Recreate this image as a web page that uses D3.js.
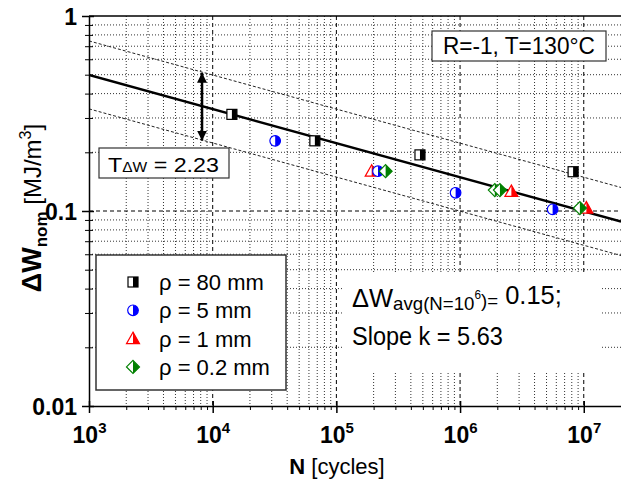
<!DOCTYPE html>
<html><head><meta charset="utf-8">
<script src="https://cdn.jsdelivr.net/npm/d3@7"></script>
<style>body{margin:0;background:#fff;} svg{display:block;font-family:"Liberation Sans",Arial,sans-serif;}</style>
</head><body><svg id="c" width="621" height="482"></svg>
<script>
// ---- data ----
const rho80N = [1.43e4, 6.7e4, 4.74e5, 8.2e6];
const rho80W = [0.313, 0.229, 0.194, 0.159];
const rho5N  = [3.2e4, 2.17e5, 9.2e5, 5.6e6];
const rho5W  = [0.229, 0.160, 0.124, 0.102];
const rho1N  = [1.93e5, 2.6e6, 1.05e7];
const rho1W  = [0.160, 0.126, 0.1035];
const rho02N = [2.5e5, 1.91e6, 2.1e6, 9.3e6];
const rho02W = [0.160, 0.128, 0.128, 0.1035];
const fitN   = [1e3, 2e7];
const fitW   = [0.498, 0.0882];
const upperW = [0.745, 0.132];
const lowerW = [0.334, 0.0591];
const arrowN = 8.2e3;
const arrowW = [0.5117, 0.2295];
const xMajor = [1e3, 1e4, 1e5, 1e6, 1e7];
const xExp   = ["3", "4", "5", "6", "7"];
const yMajor = [1, 0.1, 0.01];
const yLabels= ["1", "0.1", "0.01"];
const legendLabels = ["\u03C1 = 80 mm", "\u03C1 = 5 mm", "\u03C1 = 1 mm", "\u03C1 = 0.2 mm"];

// ---- layout ----
const L = 89, R = 621, T = 16, B = 406;
const svg = d3.select("#c");
const x = d3.scaleLog().domain([1e3, 2e7]).range([L, R]);
const y = d3.scaleLog().domain([0.01, 1]).range([B, T]);
const isMajor = v => Math.abs(Math.log10(v) - Math.round(Math.log10(v))) < 1e-9;

// grid
const gGrid = svg.append("g");
x.ticks().filter(v => v > 1e3 && v < 2e7).forEach(v => {
  gGrid.append("line").attr("x1", x(v)).attr("x2", x(v)).attr("y1", T).attr("y2", B)
    .attr("stroke", isMajor(v) ? "#000" : "#333").attr("stroke-width", 1)
    .attr("stroke-dasharray", isMajor(v) ? "4,3" : "1,2");
});
y.ticks().filter(v => v > 0.01 && v < 1).forEach(v => {
  gGrid.append("line").attr("y1", y(v)).attr("y2", y(v)).attr("x1", L).attr("x2", R)
    .attr("stroke", isMajor(v) ? "#000" : "#333").attr("stroke-width", 1)
    .attr("stroke-dasharray", isMajor(v) ? "4,3" : "1,2");
});

// white area behind text
svg.append("rect").attr("x", 343).attr("y", 273).attr("width", 257).attr("height", 99).attr("fill", "#fff");

// clip
svg.append("clipPath").attr("id", "pc").append("rect").attr("x", L).attr("y", T).attr("width", R - L).attr("height", B - T);
const gPlot = svg.append("g").attr("clip-path", "url(#pc)");

const line = d3.line().x(d => x(d[0])).y(d => y(d[1]));
gPlot.append("path").datum(d3.zip(fitN, upperW)).attr("d", line).attr("fill", "none")
  .attr("stroke", "#222").attr("stroke-width", 1).attr("stroke-dasharray", "3,2");
gPlot.append("path").datum(d3.zip(fitN, lowerW)).attr("d", line).attr("fill", "none")
  .attr("stroke", "#222").attr("stroke-width", 1).attr("stroke-dasharray", "3,2");
gPlot.append("path").datum(d3.zip(fitN, fitW)).attr("d", line).attr("fill", "none")
  .attr("stroke", "#000").attr("stroke-width", 2.5);

// arrow
const defs = svg.append("defs");
defs.append("marker").attr("id", "ah").attr("viewBox", "0 0 10 10").attr("refX", 10).attr("refY", 5)
  .attr("markerWidth", 4).attr("markerHeight", 5).attr("markerUnits", "strokeWidth").attr("orient", "auto-start-reverse")
  .append("path").attr("d", "M0,0 L10,5 L0,10 Z").attr("fill", "#000");
svg.append("line").attr("x1", x(arrowN)).attr("x2", x(arrowN)).attr("y1", y(arrowW[0])).attr("y2", y(arrowW[1]))
  .attr("stroke", "#000").attr("stroke-width", 2.5)
  .attr("marker-start", "url(#ah)").attr("marker-end", "url(#ah)");

// markers
function marker(g, shape, color) {
  if (shape === "square") {
    g.append("rect").attr("x", -5).attr("y", -5).attr("width", 10).attr("height", 10).attr("fill", "#fff").attr("stroke", color).attr("stroke-width", 1.2);
    g.append("rect").attr("x", 0).attr("y", -5).attr("width", 5).attr("height", 10).attr("fill", color);
  } else if (shape === "circle") {
    const r = 5.3;
    g.append("circle").attr("r", r).attr("fill", "#fff").attr("stroke", color).attr("stroke-width", 1.2);
    g.append("path").attr("d", `M0,${-r} A${r},${r} 0 0 1 0,${r} Z`).attr("fill", color);
  } else if (shape === "triangle") {
    g.append("path").attr("d", "M0,-6.5 L6.5,5 L-6.5,5 Z").attr("fill", "#fff").attr("stroke", color).attr("stroke-width", 1.2);
    g.append("path").attr("d", "M0,-6.5 L6.5,5 L0,5 Z").attr("fill", color);
  } else {
    g.append("path").attr("d", "M0,-6.5 L6.5,0 L0,6.5 L-6.5,0 Z").attr("fill", "#fff").attr("stroke", color).attr("stroke-width", 1.2);
    g.append("path").attr("d", "M0,-6.5 L6.5,0 L0,6.5 Z").attr("fill", color);
  }
}
const series = [
  {N: rho80N, W: rho80W, shape: "square", color: "#000"},
  {N: rho1N, W: rho1W, shape: "triangle", color: "#ff0000"},
  {N: rho5N, W: rho5W, shape: "circle", color: "#0000ff"},
  {N: rho02N, W: rho02W, shape: "diamond", color: "#008000"}
];
series.forEach(s => {
  s.N.forEach((n, i) => {
    marker(svg.append("g").attr("transform", `translate(${x(n)},${y(s.W[i])})`), s.shape, s.color);
  });
});

// axes
svg.append("line").attr("x1", L).attr("x2", R).attr("y1", T).attr("y2", T).attr("stroke", "#000").attr("stroke-width", 1.5);
const gx = svg.append("g").attr("transform", `translate(0,${B})`);
gx.call(d3.axisBottom(x).tickValues(x.ticks().filter(v => !isMajor(v))).tickSize(4).tickFormat(""));
gx.call(g => g.select(".domain").remove());
const gx2 = svg.append("g").attr("transform", `translate(0,${B})`);
gx2.call(d3.axisBottom(x).tickValues(xMajor).tickSize(7).tickSizeOuter(0).tickFormat(""));
gx2.select(".domain").attr("stroke-width", 1.5);
gx2.selectAll(".tick line").attr("y1", -5).attr("stroke-width", 1.5);
gx2.selectAll(".tick").append("text").attr("y", 37).attr("fill", "#000").attr("text-anchor", "middle")
  .attr("font-weight", "bold").attr("font-size", 23).attr("font-family", "Liberation Sans, Arial, sans-serif")
  .each(function(d, i) {
    const t = d3.select(this);
    t.append("tspan").text("10");
    t.append("tspan").attr("font-size", 15).attr("dy", -10).text(xExp[i]);
  });

const gy = svg.append("g").attr("transform", `translate(${L},0)`);
gy.call(d3.axisLeft(y).tickValues(y.ticks().filter(v => !isMajor(v))).tickSize(4).tickFormat(""));
gy.call(g => g.select(".domain").remove());
gy.selectAll(".tick line").attr("x2", -4).attr("x1", 4);
const gy2 = svg.append("g").attr("transform", `translate(${L},0)`);
gy2.call(d3.axisLeft(y).tickValues(yMajor).tickSize(7).tickSizeOuter(0).tickPadding(5).tickFormat((d, i) => yLabels[i]));
gy2.select(".domain").attr("stroke-width", 1.5);
gy2.selectAll(".tick line").attr("x1", 5).attr("stroke-width", 1.5);
gy2.selectAll(".tick text").attr("font-weight", "bold").attr("font-size", 23).attr("font-family", "Liberation Sans, Arial, sans-serif").attr("dy", "0.36em").attr("fill", "#000");

// axis titles
const xt = svg.append("text").attr("x", 337).attr("y", 474).attr("text-anchor", "middle").attr("font-size", 22);
xt.append("tspan").attr("font-weight", "bold").text("N");
xt.append("tspan").text(" [cycles]");
const yt = svg.append("text").attr("transform", "translate(41,208) rotate(-90)").attr("text-anchor", "middle").attr("font-size", 24);
yt.append("tspan").attr("font-weight", "bold").attr("font-size", 27).text("\u0394W");
yt.append("tspan").attr("font-weight", "bold").attr("font-size", 17).attr("dy", 6).text("nom");
yt.append("tspan").attr("dy", -6).text(" [MJ/m");
yt.append("tspan").attr("font-size", 16).attr("dy", -10).text("3");
yt.append("tspan").attr("dy", 10).text("]");

// legend
svg.append("rect").attr("x", 96).attr("y", 255).attr("width", 190).attr("height", 135).attr("fill", "#fff").attr("stroke", "#333").attr("stroke-width", 1.5);
const legendSeries = [series[0], series[2], series[1], series[3]];
legendSeries.forEach((s, i) => {
  const yy = 282 + i * 28.3;
  marker(svg.append("g").attr("transform", `translate(133,${yy})`), s.shape, s.color);
  svg.append("text").attr("x", 159).attr("y", yy + 8).attr("font-size", 22).text(legendLabels[i]);
});

// annotation boxes
svg.append("rect").attr("x", 99).attr("y", 148).attr("width", 130).attr("height", 30).attr("fill", "#fff").attr("stroke", "#333").attr("stroke-width", 1.2);
const tt = svg.append("text").attr("x", 108).attr("y", 172).attr("font-size", 21);
tt.append("tspan").text("T");
tt.append("tspan").attr("font-size", 14).text("\u0394W");
tt.append("tspan").text(" = 2.23");
fitWidth(tt, 111);

svg.append("rect").attr("x", 432).attr("y", 31).attr("width", 174).attr("height", 30).attr("fill", "#fff").attr("stroke", "#333").attr("stroke-width", 1.2);
const rt = svg.append("text").attr("x", 443).attr("y", 54).attr("font-size", 23).text("R=-1, T=130\u00B0C");
fitWidth(rt, 152);

const t1 = svg.append("text").attr("x", 352).attr("y", 307).attr("font-size", 26);
t1.append("tspan").text("\u0394W");
t1.append("tspan").attr("font-size", 19).attr("dy", 3).text("avg(N=10");
t1.append("tspan").attr("font-size", 12).attr("dy", -11).text("6");
t1.append("tspan").attr("font-size", 19).attr("dy", 8).text(")=");
t1.append("tspan").attr("dy", -3).text(" 0.15;");
fitWidth(t1, 210);
const t2 = svg.append("text").attr("x", 352).attr("y", 345).attr("font-size", 26).text("Slope k = 5.63");
fitWidth(t2, 151);

function fitWidth(sel, target) {
  const node = sel.node();
  const w = node.getComputedTextLength();
  const x0 = +sel.attr("x");
  const k = target / w;
  sel.attr("transform", `translate(${x0},0) scale(${k},1) translate(${-x0},0)`);
}
</script></body></html>
